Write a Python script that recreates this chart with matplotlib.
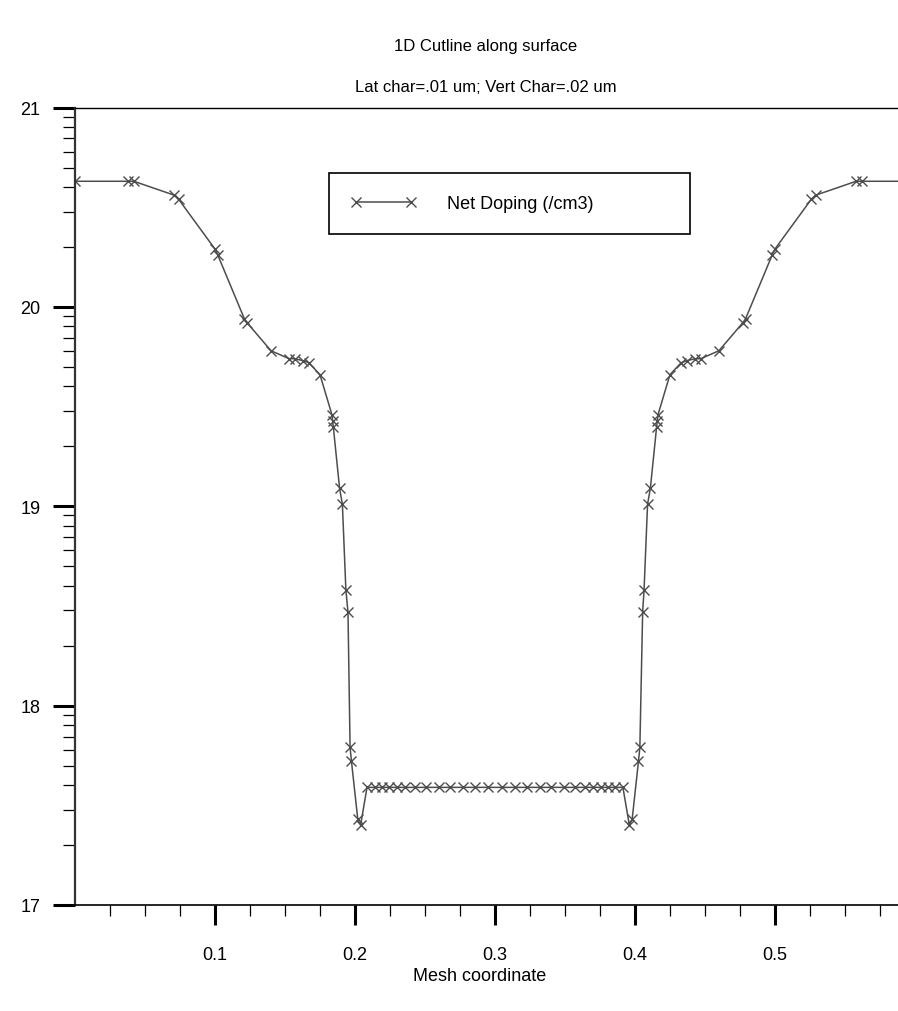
import numpy as np
import matplotlib.pyplot as plt
from matplotlib.ticker import FixedLocator, NullFormatter

plt.rcParams['font.family'] = ['Liberation Sans', 'DejaVu Sans']

# net doping along the surface cutline (log10 of /cm3)
mesh_x = [0.000, 0.038, 0.042, 0.071, 0.074, 0.100, 0.102, 0.121, 0.123, 0.140,
          0.153, 0.157, 0.163, 0.167, 0.175, 0.1835, 0.184, 0.1845, 0.189, 0.191,
          0.1935, 0.195, 0.1965, 0.1975, 0.202, 0.204,
          0.2086, 0.214, 0.219, 0.224, 0.230, 0.236, 0.243, 0.251, 0.260, 0.268,
          0.277, 0.286, 0.295, 0.305, 0.314, 0.323, 0.332, 0.340, 0.349, 0.357,
          0.364, 0.370, 0.376, 0.381, 0.386, 0.3914,
          0.396, 0.398, 0.4025, 0.4035, 0.4055, 0.4065, 0.409, 0.411, 0.4155, 0.416,
          0.4165, 0.425, 0.433, 0.437, 0.443, 0.447, 0.460, 0.477, 0.479, 0.498,
          0.500, 0.526, 0.529, 0.558, 0.562, 0.600]
net_doping = [20.63, 20.63, 20.63, 20.56, 20.54, 20.29, 20.26, 19.94, 19.92, 19.78,
              19.74, 19.74, 19.73, 19.72, 19.66, 19.46, 19.43, 19.40, 19.09, 19.01,
              18.58, 18.47, 17.79, 17.72, 17.43, 17.40,
              17.59, 17.59, 17.59, 17.59, 17.59, 17.59, 17.59, 17.59, 17.59, 17.59,
              17.59, 17.59, 17.59, 17.59, 17.59, 17.59, 17.59, 17.59, 17.59, 17.59,
              17.59, 17.59, 17.59, 17.59, 17.59, 17.59,
              17.40, 17.43, 17.72, 17.79, 18.47, 18.58, 19.01, 19.09, 19.40, 19.43,
              19.46, 19.66, 19.72, 19.73, 19.74, 19.74, 19.78, 19.92, 19.94, 20.26,
              20.29, 20.54, 20.56, 20.63, 20.63, 20.63]

y_major = [17, 18, 19, 20, 21]
x_major = [0.1, 0.2, 0.3, 0.4, 0.5]
x_labels = ['0.1', '0.2', '0.3', '0.4', '0.5']

W, H = 898, 1012
fig = plt.figure(figsize=(W / 100, H / 100), dpi=100)
ax = fig.add_axes([75 / W, 1 - 906 / H, (W - 75) / W, (906 - 108.5) / H])

ax.plot(mesh_x, net_doping, color='#4d4d4d', lw=1.1, marker='x', ms=6.5, mew=1,
        label='Net Doping (/cm3)')

ax.set_xlim(0, 0.5879)
ax.set_ylim(17, 21)

ax.spines['right'].set_visible(False)
ax.spines['left'].set_linewidth(1.6)
ax.spines['left'].set_color('#333333')
ax.spines['top'].set_linewidth(1.0)
ax.spines['bottom'].set_linewidth(1.2)

# y minor ticks spaced like a log decade
y_minor = [d + np.log10(k) for d in range(17, 21) for k in range(2, 10)]
ax.yaxis.set_major_locator(FixedLocator(y_major))
ax.yaxis.set_minor_locator(FixedLocator(y_minor))
ax.set_yticklabels([str(v) for v in y_major])
ax.yaxis.set_minor_formatter(NullFormatter())

x_minor = [0.025, 0.05, 0.075, 0.125, 0.15, 0.175, 0.225, 0.25, 0.275,
           0.325, 0.35, 0.375, 0.425, 0.45, 0.475, 0.525, 0.55, 0.575]
ax.xaxis.set_major_locator(FixedLocator(x_major))
ax.xaxis.set_minor_locator(FixedLocator(x_minor))
ax.set_xticklabels(x_labels)
ax.xaxis.set_minor_formatter(NullFormatter())

ax.tick_params(axis='y', which='major', direction='out', length=16, width=2.2,
               pad=9, labelsize=13)
ax.tick_params(axis='y', which='minor', direction='out', length=8.5, width=0.9)
ax.tick_params(axis='x', which='major', direction='out', length=14.5, width=2.2,
               pad=15, labelsize=13)
ax.tick_params(axis='x', which='minor', direction='out', length=8, width=0.9)

leg = ax.legend(loc='center', bbox_to_anchor=(0.309, 0.840, 0.438, 0.079),
                mode='expand', borderaxespad=0, fancybox=False, framealpha=1,
                edgecolor='black', fontsize=13, handlelength=3.6,
                handletextpad=1.7, borderpad=1.2, numpoints=2)
leg.get_frame().set_linewidth(1.2)

fig.text(486 / W, 1 - 47 / H, '1D Cutline along surface', ha='center', va='center',
         fontsize=12)
fig.text(486 / W, 1 - 88 / H, 'Lat char=.01 um; Vert Char=.02 um', ha='center',
         va='center', fontsize=12)
fig.text(480 / W, 1 - 977 / H, 'Mesh coordinate', ha='center', va='center',
         fontsize=13)

fig.savefig('out.png', dpi=100)
